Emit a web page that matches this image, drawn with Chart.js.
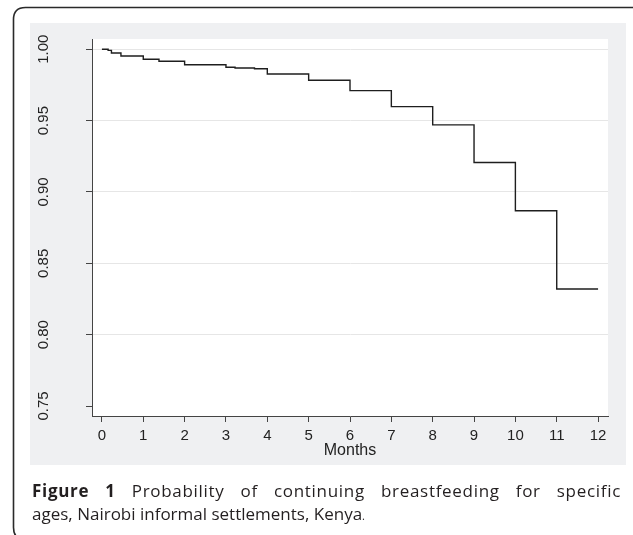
<!DOCTYPE html>
<html>
<head>
<meta charset="utf-8">
<script src="https://cdn.jsdelivr.net/npm/chart.js@4"></script>
<style>
  html, body { margin: 0; padding: 0; background: #ffffff; }
  #wrap { position: relative; width: 633px; height: 535px; overflow: hidden; }
  #c { position: absolute; left: 0; top: 0; }
  .cap { position: absolute; left: 32px; width: 589px; font-family: "Open Sans", sans-serif; font-size: 17px; line-height: 23px; color: #231f20; white-space: nowrap; }
  #cap1 { top: 479px; text-align: justify; text-align-last: justify; white-space: normal; letter-spacing: 0.7px; }
  #cap2 { top: 502px; text-align: left; }
  .small { font-size: 11px; }
</style>
</head>
<body>
<div id="wrap">
  <canvas id="c" width="633" height="535"></canvas>
  <div class="cap" id="cap1"><b>Figure 1</b> Probability of continuing breastfeeding for specific</div>
  <div class="cap" id="cap2">ages, Nairobi informal settlements, Kenya<span class="small">.</span></div>
</div>
<script>
// Kaplan-Meier style estimate
const months = [0, 0.15, 0.23, 0.46, 1, 1.38, 2, 3, 3.22, 3.69, 4, 5, 6, 7, 8, 9, 10, 11, 12];
const survival = [1.000, 0.9992, 0.9974, 0.9953, 0.9930, 0.9916, 0.9892, 0.9874, 0.9869, 0.9864, 0.9827, 0.9783, 0.9710, 0.9598, 0.9470, 0.9206, 0.8868, 0.8320, 0.8320];
const xTicks = [0, 1, 2, 3, 4, 5, 6, 7, 8, 9, 10, 11, 12];
const yTicks = [0.75, 0.80, 0.85, 0.90, 0.95, 1.00];
const yTickLabels = ["0.75", "0.80", "0.85", "0.90", "0.95", "1.00"];
const xTitle = "Months";

const points = months.map((m, i) => ({ x: m, y: survival[i] }));

function roundRect(ctx, x, y, w, h, r) {
  ctx.beginPath();
  ctx.moveTo(x + r, y);
  ctx.lineTo(x + w - r, y);
  ctx.quadraticCurveTo(x + w, y, x + w, y + r);
  ctx.lineTo(x + w, y + h - r);
  ctx.quadraticCurveTo(x + w, y + h, x + w - r, y + h);
  ctx.lineTo(x + r, y + h);
  ctx.quadraticCurveTo(x, y + h, x, y + h - r);
  ctx.lineTo(x, y + r);
  ctx.quadraticCurveTo(x, y, x + r, y);
  ctx.closePath();
}

const bgPlugin = {
  id: 'bg',
  beforeDraw(chart) {
    const ctx = chart.ctx;
    const a = chart.chartArea;
    ctx.save();
    ctx.fillStyle = '#ffffff';
    ctx.fillRect(0, 0, chart.width, chart.height);
    // outer rounded frame
    ctx.strokeStyle = '#2a2a2a';
    ctx.lineWidth = 1.6;
    roundRect(ctx, 13.5, 7.5, 632, 532, 12);
    ctx.stroke();
    // gray graph region
    ctx.fillStyle = '#eff0f2';
    ctx.fillRect(30, 23, 596, 442);
    // white plot region
    ctx.fillStyle = '#ffffff';
    ctx.fillRect(a.left, a.top, a.right - a.left, a.bottom - a.top);
    ctx.restore();
  }
};

new Chart(document.getElementById('c'), {
  type: 'line',
  data: {
    datasets: [{
      data: points,
      stepped: true,
      borderColor: '#1e1e1e',
      borderWidth: 1.4,
      pointRadius: 0,
      fill: false
    }]
  },
  options: {
    responsive: false,
    animation: false,
    devicePixelRatio: 1,
    layout: { padding: { top: 39, right: 25, left: 0, bottom: 59 } },
    plugins: { legend: { display: false }, tooltip: { enabled: false } },
    scales: {
      x: {
        type: 'linear',
        min: -0.24,
        max: 12.24,
        afterBuildTicks: s => { s.ticks = xTicks.map(v => ({ value: v })); },
        afterFit: s => { s.height = 60; },
        grid: { drawOnChartArea: false, drawTicks: true, tickLength: 6, tickColor: '#444', tickWidth: 1 },
        border: { display: true, color: '#444', width: 1 },
        ticks: {
          autoSkip: false,
          maxRotation: 0,
          minRotation: 0,
          padding: 5,
          color: '#222',
          font: { family: '"Liberation Sans", Arial, sans-serif', size: 15 },
          callback: v => String(v)
        },
        title: {
          display: true,
          text: xTitle,
          color: '#222',
          font: { family: '"Liberation Sans", Arial, sans-serif', size: 16 },
          padding: { top: 0, bottom: 16 }
        }
      },
      y: {
        type: 'linear',
        min: 0.743,
        max: 1.0072,
        afterBuildTicks: s => { s.ticks = yTicks.map(v => ({ value: v })); },
        afterFit: s => { s.width = 92; },
        grid: {
          drawTicks: true,
          tickLength: 6,
          tickColor: '#444',
          color: c => (c.tick && Math.abs(c.tick.value - 0.75) < 1e-9) ? 'rgba(0,0,0,0)' : '#e6e6e6',
          lineWidth: 1
        },
        border: { display: true, color: '#444', width: 1 },
        ticks: {
          minRotation: 90,
          maxRotation: 90,
          crossAlign: 'center',
          padding: 28,
          color: '#222',
          font: { family: '"Liberation Sans", Arial, sans-serif', size: 15 },
          callback: (v) => {
            const i = yTicks.findIndex(t => Math.abs(t - v) < 1e-9);
            return i >= 0 ? yTickLabels[i] : '';
          }
        }
      }
    }
  },
  plugins: [bgPlugin]
});
</script>
</body>
</html>
